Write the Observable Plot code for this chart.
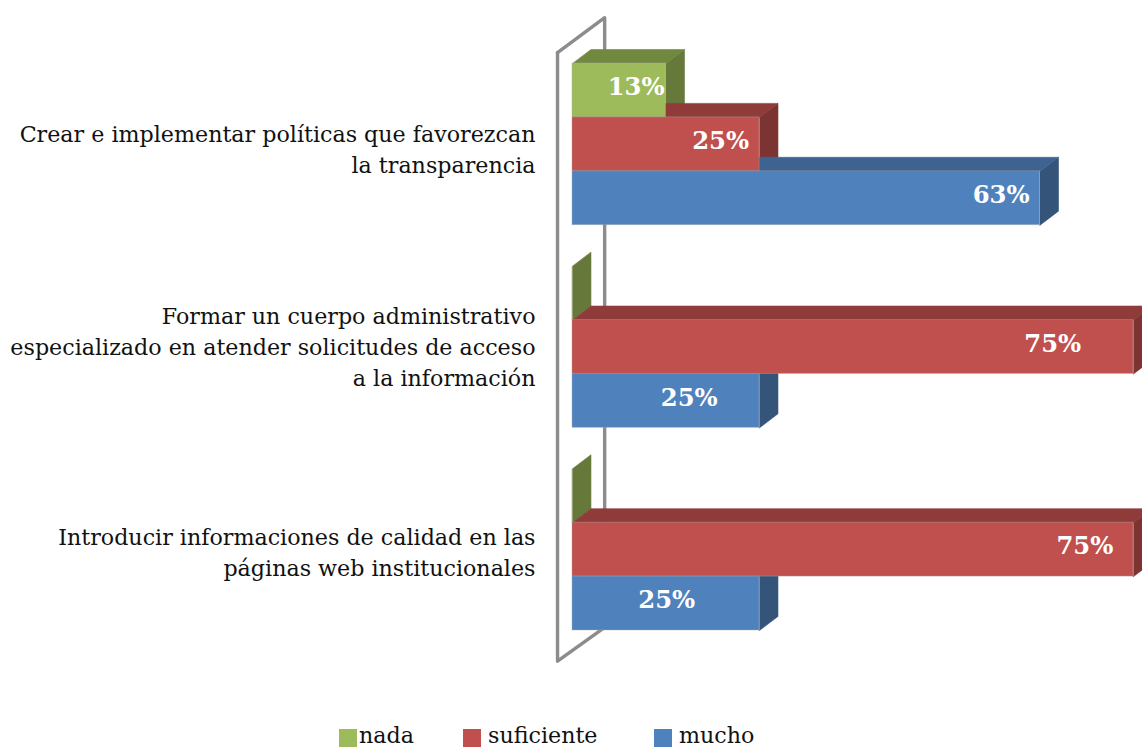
<!DOCTYPE html>
<html>
<head>
<meta charset="utf-8">
<script src="https://cdn.jsdelivr.net/npm/d3@7"></script>
<script src="https://cdn.jsdelivr.net/npm/@observablehq/plot@0.6"></script>
<style>
html,body{margin:0;padding:0;background:#fff;overflow:hidden;width:1142px;height:747px}
#chart svg{display:block}
#legend{position:absolute;left:0;top:720px;width:1142px;height:27px;font:22.2px "DejaVu Serif",serif;color:#111}
#legend i{position:absolute;top:9px;width:18px;height:18px}
#legend span{position:absolute;top:0px;line-height:30px}
</style>
</head>
<body>
<div id="chart"></div>
<div id="legend"></div>
<script>
const categories = [
  "Crear e implementar políticas que favorezcan\nla transparencia",
  "Formar un cuerpo administrativo\nespecializado en atender solicitudes de acceso\na la información",
  "Introducir informaciones de calidad en las\npáginas web institucionales"
];
const seriesNames = ["nada", "suficiente", "mucho"];
const nada = [12.5, 0, 0];
const suficiente = [25, 75, 75];
const mucho = [62.5, 25, 25];
const nadaLabels = ["13%", "", ""];
const suficienteLabels = ["25%", "75%", "75%"];
const muchoLabels = ["63%", "25%", "25%"];
const nadaLabelAt = [8.5, null, null];
const suficienteLabelAt = [19.8, 64.2, 68.5];
const muchoLabelAt = [57.3, 15.6, 12.6];
const categoryRowAt = [1.6, 1.5, 1.556];

const front = ["#9ebb5b", "#c0504d", "#4f81bd"];
const top3d = ["#71893f", "#8f3b39", "#3e6390"];
const side = ["#66793a", "#7b3432", "#345479"];

const groupStep = 3.76, depthX = 2.47, depthY = 0.26;
const values = [nada, suficiente, mucho];
const labelTexts = [nadaLabels, suficienteLabels, muchoLabels];
const labelAts = [nadaLabelAt, suficienteLabelAt, muchoLabelAt];

const polys = [], fronts = [], labels = [];
let id = 0;
const poly = (pts, fill) => {
  id++;
  pts.forEach(([x, y]) => polys.push({id, x, y, fill}));
};
categories.forEach((c, g) => {
  seriesNames.forEach((s, k) => {
    const v = values[k][g], y0 = g * groupStep + k, y1 = y0 + 1;
    poly([[v, y0], [v + depthX, y0 - depthY], [v + depthX, y1 - depthY], [v, y1]], side[k]);
    if (v > 0) {
      poly([[0, y0], [depthX, y0 - depthY], [v + depthX, y0 - depthY], [v, y0]], top3d[k]);
      fronts.push({x1: 0, x2: v, y1: y0, y2: y1, fill: front[k]});
      labels.push({x: labelAts[k][g], y: y0 + 0.5, t: labelTexts[k][g]});
    }
  });
});
const catRows = categories.map((c, g) => ({c, y: g * groupStep + categoryRowAt[g]}));
const wallBack = [{x: -2, y: -0.2}, {x: 4.3, y: -0.85}, {x: 4.3, y: 10.46}];
const wallFront = [{x: 4.3, y: 10.46}, {x: -2, y: 11.09}, {x: -2, y: -0.2}];

const serif = "DejaVu Serif";
const chart = Plot.plot({
  width: 1142, height: 720,
  margin: 0,
  x: {domain: [0, 75], range: [572, 1133], axis: null},
  y: {domain: [0, 2 * groupStep + 3], range: [63, 630], axis: null},
  color: {type: "identity"},
  style: {background: "transparent"},
  marks: [
    Plot.line(wallBack, {x: "x", y: "y", stroke: "#8c8c8c", strokeWidth: 3.4, strokeLinejoin: "round"}),
    Plot.line(wallFront, {x: "x", y: "y", stroke: "#8c8c8c", strokeWidth: 3.4, strokeLinejoin: "round"}),
    Plot.line(polys, {x: "x", y: "y", z: "id", fill: "fill", stroke: "fill", strokeWidth: 0.6, curve: "linear-closed"}),
    Plot.rect(fronts, {x1: "x1", x2: "x2", y1: "y1", y2: "y2", fill: "fill", stroke: "#a9a9a9", strokeOpacity: 0.4, strokeWidth: 1}),
    Plot.text(labels, {x: "x", y: "y", text: "t", fill: "#fff", fontWeight: "bold", fontFamily: serif, fontSize: 24.3, dy: -3, textAnchor: "middle"}),
    Plot.text(catRows, {x: () => 0, y: "y", text: "c", textAnchor: "end", dx: -37, dy: -2, fill: "#111", fontFamily: serif, fontSize: 22.2, lineHeight: 1.396})
  ]
});
document.getElementById("chart").append(chart);

const legendLayout = [[339, 359], [463, 488], [654, 679]];
const legend = document.getElementById("legend");
seriesNames.forEach((s, k) => {
  const sw = document.createElement("i");
  sw.style.left = legendLayout[k][0] + "px";
  sw.style.background = front[k];
  const t = document.createElement("span");
  t.style.left = legendLayout[k][1] + "px";
  t.textContent = s;
  legend.append(sw, t);
});
</script>
</body>
</html>
